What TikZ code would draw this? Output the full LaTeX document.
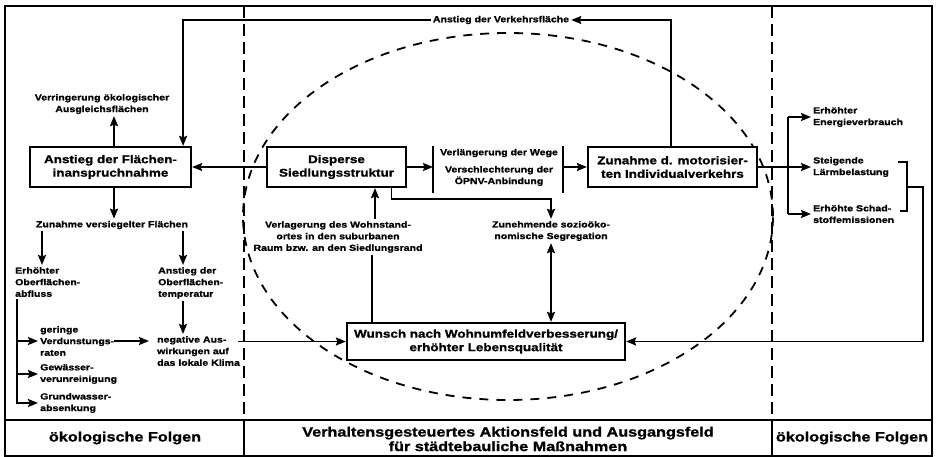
\documentclass[tikz,border=0pt]{standalone}
\usepackage{fontspec}
\newfontfamily\diafont{Liberation Sans}[FakeStretch=1.2,FakeBold=1.2]
\usetikzlibrary{arrows.meta,calc}
\newcommand\fsm{\diafont\bfseries\fontsize{8.8}{11.6}\selectfont}
\newcommand\fbx{\diafont\bfseries\fontsize{11.2}{13.5}\selectfont}
\newcommand\fcp{\diafont\bfseries\fontsize{13.5}{14.5}\selectfont}
\tikzset{
  ln/.style={line width=1.9pt},
  arr/.style={ln,-{Stealth[length=10pt,width=8pt,inset=1.5pt]}},
  arrb/.style={ln,{Stealth[length=10pt,width=8pt,inset=1.5pt]}-{Stealth[length=10pt,width=8pt,inset=1.5pt]}},
  mbox/.style={draw,line width=2.2pt,fill=white,align=center,font=\fbx,inner sep=0pt},
  txt/.style={align=center,font=\fsm,inner sep=2pt},
  ltxt/.style={align=left,font=\fsm,inner sep=2pt},
  captxt/.style={align=center,font=\fcp,inner sep=0pt},
  divider/.style={line width=2.2pt,dash pattern=on 12pt off 6pt},
  ell/.style={line width=1.8pt,dash pattern=on 9pt off 8pt},
}
\begin{document}
\begin{tikzpicture}[x=1pt,y=-1pt]
\useasboundingbox (0,0) rectangle (936,457);
% frame and dividers
\draw[ln] (5,6) rectangle (932,456);
\draw[ln] (5,420) -- (932,420);
\draw[divider] (244,6) -- (244,420);
\draw[divider] (772,6) -- (772,420);
\draw[ln] (244,420) -- (244,456);
\draw[ln] (772,420) -- (772,456);
% ellipse
\draw[ell] (508,216.5) ellipse [x radius=265pt, y radius=183.5pt];

% captions
\node[captxt] (c1) at (125,438) {ökologische Folgen};
\node[captxt] (c2) at (508,439) {Verhaltensgesteuertes Aktionsfeld und Ausgangsfeld\\für städtebauliche Maßnahmen};
\node[captxt] (c3) at (852,438) {ökologische Folgen};

% main boxes
\node[mbox,minimum width=161pt,minimum height=40pt] (anst) at (110.5,167) {Anstieg der Flächen-\\inanspruchnahme};
\node[mbox,minimum width=139pt,minimum height=40pt] (disp) at (336.5,167) {Disperse\\Siedlungsstruktur};
\node[mbox,minimum width=169pt,minimum height=40pt] (zun) at (672.5,167) {Zunahme d. motorisier-\\ten Individualverkehrs};
\node[mbox,minimum width=278pt,minimum height=37pt] (wun) at (486,341.5) {Wunsch nach Wohnumfeldverbesserung/\\erhöhter Lebensqualität};

% Verlaengerung block
\node[txt] (vw) at (499,153) {Verlängerung der Wege};
\node[txt] (vo) at (499,176) {Verschlechterung der\\ÖPNV-Anbindung};
\coordinate (bl) at (433,167);
\coordinate (br) at (563,167);
\draw[ln] (433,146) -- (433,193);
\draw[ln] (563,146) -- (563,193);
\draw[arr] (disp.east) -- (bl);
\draw[arr] (br) -- (zun.west);

% top route
\node[txt] (vf) at (501,20) {Anstieg der Verkehrsfläche};
\draw[arr] (zun.north -| 671,0) -- (671,20) -- (vf.east);
\draw[arr] (vf.west) -| ([xshift=-9pt]anst.north east);
\draw[arr] (disp.west) -- (anst.east);

% left column
\node[txt] (verr) at (102,104) {Verringerung ökologischer\\Ausgleichsflächen};
\draw[arr] ([xshift=3.5pt]anst.north) -- ([xshift=3.5pt]anst.north |- verr.south);
\node[txt] (zvf) at (112,225) {Zunahme versiegelter Flächen};
\draw[arr] ([xshift=3.5pt]anst.south) -- ([xshift=3.5pt]anst.south |- zvf.north);
\node[ltxt,anchor=north west] (ero) at (13,265) {Erhöhter\\Oberflächen-\\abfluss};
\node[ltxt,anchor=north west] (ant) at (156,265) {Anstieg der\\Oberflächen-\\temperatur};
\draw[arr] ([xshift=29pt]ero.north west |- zvf.south) -- ([xshift=29pt]ero.north west);
\draw[arr] ([xshift=27pt]ant.north west |- zvf.south) -- ([xshift=27pt]ant.north west);
\node[ltxt,anchor=north west] (neg) at (155,334) {negative Aus-\\wirkungen auf\\das lokale Klima};
\draw[arr] ([xshift=27pt]ant.south west) -- ([xshift=27pt]ant.south west |- neg.north);
\node[ltxt,anchor=west] (ger) at (38,341) {geringe\\Verdunstungs-\\raten};
\node[ltxt,anchor=west] (gew) at (38,374) {Gewässer-\\verunreinigung};
\node[ltxt,anchor=west] (gru) at (38,403) {Grundwasser-\\absenkung};
\draw[arr] ([xshift=4pt]ero.south west) |- (gru.west);
\draw[arr] ([xshift=4pt]ero.south west |- ger.west) -- (ger.west);
\draw[arr] ([xshift=4pt]ero.south west |- gew.west) -- (gew.west);
\draw[arr] ([xshift=-2pt]ger.east) -- ([xshift=-6pt]neg.west |- ger.east);
\coordinate (negr) at (238,341.5);
\draw[arr] (negr) -- (wun.west);

% middle
\node[txt] (verl) at (338,237) {Verlagerung des Wohnstand-\\ortes in den suburbanen\\Raum bzw. an den Siedlungsrand};
\draw[arr] ([xshift=37pt]verl.north) -- ([xshift=37pt]verl.north |- disp.south);
\draw[ln] ([xshift=34pt]verl.south) -- ([xshift=34pt]verl.south |- wun.north);
\node[txt] (seg) at (551,231) {Zunehmende sozioöko-\\nomische Segregation};
\draw[arr] ([xshift=55pt]disp.south) -- ++(0,11) -| (seg.north);
\draw[arrb] (seg.south) -- (seg.south |- wun.north);

% right column
\node[ltxt,anchor=west] (ene) at (811,117) {Erhöhter\\Energieverbrauch};
\node[ltxt,anchor=west] (lae) at (811,167) {Steigende\\Lärmbelastung};
\node[ltxt,anchor=west] (sch) at (811,214) {Erhöhte Schad-\\stoffemissionen};
\coordinate (brt) at (788,117);
\coordinate (brb) at (788,214);
\draw[arr] (zun.east) -- (lae.west);
\draw[ln] (brt) -- (brb);
\draw[arr] (brt) -- (ene.west);
\draw[arr] (brb) -- (sch.west);
\coordinate (bk) at (907,187);
\draw[ln] (898,162) -- (907,162) -- (907,211) -- (900,211);
\draw[arr] (bk) -- (923,187) |- (wun.east);
\end{tikzpicture}
\end{document}
